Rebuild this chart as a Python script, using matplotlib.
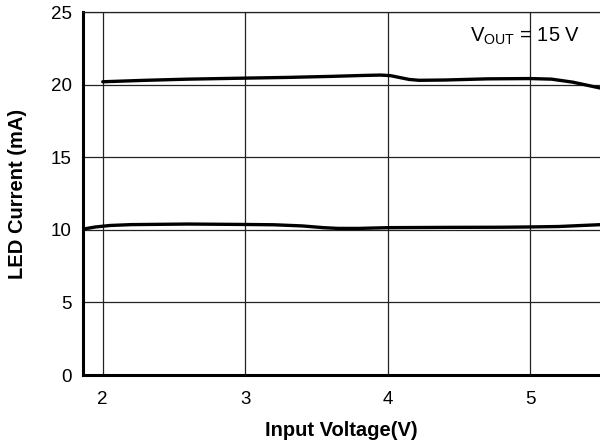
import matplotlib
matplotlib.use("Agg")
import matplotlib.pyplot as plt
import numpy as np

plt.rcParams['font.family'] = ['Liberation Sans', 'DejaVu Sans']
plt.rcParams['mathtext.default'] = 'regular'

# Upper curve (~20 mA)
vin_hi = [2.0, 2.3, 2.6, 3.0, 3.3, 3.6, 3.85, 3.95, 4.02, 4.08, 4.15, 4.22, 4.4, 4.7, 5.0, 5.15, 5.3, 5.5]
led_hi = [20.2, 20.3, 20.38, 20.45, 20.5, 20.57, 20.64, 20.66, 20.62, 20.5, 20.36, 20.3, 20.32, 20.4, 20.42, 20.38, 20.17, 19.75]

# Lower curve (~10 mA)
vin_lo = [1.86, 1.95, 2.05, 2.2, 2.6, 3.0, 3.2, 3.4, 3.55, 3.65, 3.8, 4.0, 4.4, 4.8, 5.0, 5.2, 5.5]
led_lo = [10.05, 10.2, 10.3, 10.36, 10.4, 10.37, 10.35, 10.27, 10.15, 10.1, 10.1, 10.15, 10.17, 10.18, 10.2, 10.23, 10.36]

xticks = [2, 3, 4, 5]
yticks = [0, 5, 10, 15, 20, 25]

fig = plt.figure(figsize=(6.0, 4.47), dpi=100)
ax = fig.add_axes([0.138, 0.161, 0.862, 0.812])

ax.plot(vin_hi, led_hi, color='black', lw=2.4, solid_capstyle='round', solid_joinstyle='round')
ax.plot(vin_lo, led_lo, color='black', lw=2.4, solid_capstyle='round', solid_joinstyle='round')

ax.set_xlim(1.86, 5.49)
ax.set_ylim(0, 25)
ax.set_xticks(xticks)
ax.set_yticks(yticks)
ax.tick_params(length=0, labelsize=13.5)
ax.tick_params(axis='x', pad=11.5)
ax.tick_params(axis='y', pad=8)
ax.grid(True, color='#222222', lw=0.9)
ax.set_axisbelow(True)

ax.spines['right'].set_visible(False)
ax.spines['top'].set_linewidth(0.9)
ax.spines['top'].set_color('#222222')
ax.spines['left'].set_linewidth(2.2)
ax.spines['bottom'].set_linewidth(2.2)

ax.set_xlabel('Input Voltage(V)', fontsize=14.5, fontweight='bold')
ax.set_ylabel('LED Current (mA)', fontsize=14.5, fontweight='bold')
ax.xaxis.set_label_coords(0.5, -0.128)
ax.yaxis.set_label_coords(-0.108, 0.5)

ax.text(0.962, 0.934, 'V$_{OUT}$ = 15 V', transform=ax.transAxes, ha='right', va='center', fontsize=14.5)

fig.savefig('out.png', dpi=100)
